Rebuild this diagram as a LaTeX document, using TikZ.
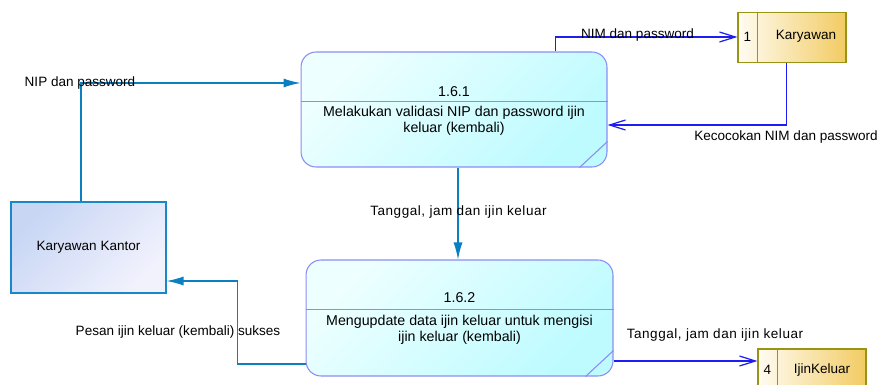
\documentclass[tikz,border=0pt]{standalone}
\usepackage{fontspec}
\setmainfont{Liberation Sans}
\usepackage{xcolor}
\usepackage{tikz}
\usetikzlibrary{arrows.meta,calc,positioning}
\definecolor{proclin}{HTML}{8C8CF5}
\definecolor{proctop}{HTML}{EEFFFF}
\definecolor{procbot}{HTML}{BDFBFF}
\definecolor{storelin}{HTML}{9A9414}
\definecolor{storeleft}{HTML}{FFFCF2}
\definecolor{storeright}{HTML}{F2CB62}
\definecolor{entlin}{HTML}{1888C8}
\definecolor{enttop}{HTML}{C8D6F4}
\definecolor{entbot}{HTML}{F2F2FD}
\definecolor{flowteal}{HTML}{0A80C0}
\definecolor{flowblue}{HTML}{1E1EF0}
\newcommand{\lblfont}{\fontsize{7.7pt}{9.1pt}\selectfont}
\newcommand{\procfont}{\fontsize{8.1pt}{9.1pt}\selectfont}
\newcommand{\widefont}{\lblfont\addfontfeatures{LetterSpace=4}}
\tikzset{
  process/.style={draw=proclin, line width=0.6pt, rounded corners=0.3cm, top color=proctop, bottom color=procbot, shading angle=45, minimum width=6.12cm, minimum height=2.3cm},
  store/.style={draw=storelin, line width=0.6pt, left color=storeleft, right color=storeright, minimum width=2.16cm, minimum height=1.0cm, inner sep=0pt},
  entity/.style={draw=entlin, line width=0.6pt, top color=enttop, bottom color=entbot, shading angle=45, minimum width=3.1cm, minimum height=1.82cm, font=\lblfont},
  ptext/.style={align=center, inner sep=0pt, font=\procfont},
  lbl/.style={inner sep=0pt, font=\lblfont},
  flowA/.style={-{Latex[length=0.34cm, width=0.18cm]}, draw=flowteal, line width=0.7pt},
  flowB/.style={-{Straight Barb[length=0.32cm, width=0.2cm]}, draw=flowblue, line width=0.7pt}
}

\begin{document}
\begin{tikzpicture}[x=0.02cm, y=-0.02cm]
  \useasboundingbox (0,0) rectangle (879,385);

  % processes
  \node[process] (p1) at (454,109.5) {};
  \node[process, minimum width=6.14cm, minimum height=2.32cm] (p2) at (459.5,318) {};
  \foreach \p in {p1,p2} {
    \draw[proclin, line width=0.6pt] ($(\p.north west)+(0,50)$) -- ($(\p.north east)+(0,50)$);
    \draw[proclin, line width=0.6pt] ($(\p.south east)+(0,-26)$) -- ($(\p.south east)+(-28,0)$);
  }
  \node[ptext] (p1t) at (454,92) {1.6.1};
  \node[ptext] (p1d) at (454,121) {Melakukan validasi NIP dan password ijin\\keluar (kembali)};
  \node[ptext] (p2t) at (459.5,298) {1.6.2};
  \node[ptext] (p2d) at (459.5,329.5) {Mengupdate data ijin keluar untuk mengisi\\ijin keluar (kembali)};

  % data stores
  \node[store] (s1) at (792,37.5) {};
  \node[store] (s2) at (812,374) {};
  \foreach \s in {s1,s2} {
    \draw[storelin, line width=0.6pt] ($(\s.north west)+(20,0)$) -- ($(\s.south west)+(20,0)$);
  }
  \node[lbl] (s1n) at ($(s1.west)+(10,-1)$) {1};
  \node[lbl] (s1l) at ($(s1.center)+(14,-1)$) {Karyawan};
  \node[lbl] (s2n) at ($(s2.west)+(10,-4)$) {4};
  \node[lbl] (s2l) at ($(s2.center)+(10,-4)$) {IjinKeluar};

  % external entity
  \node[entity] (kk) at (88.5,247.5) {Karyawan Kantor};

  % flows
  \draw[flowA] ($(kk.north)+(-7.5,0)$) |- ($(p1.west)+(0,-26.5)$);
  \draw[flowA] ($(p1.south)+(4,0)$) -- ($(p2.north)+(-1.5,0)$);
  \draw[flowA] ($(p2.west)+(0,46)$) -| ($(kk.east)+(71,33.5)$) -- ($(kk.east)+(0,33.5)$);
  \draw[flowB] ($(p1.north east)+(-52,0)$) |- ($(s1.west)+(0,-0.5)$);
  \draw[flowB] ($(s1.south west)+(49,0)$) |- ($(p1.east)+(0,15.5)$);
  \draw[flowB] ($(p2.east)+(0,43)$) -- ($(s2.west)+(0,-13)$);

  % flow labels
  \node[lbl] (l1) at (80,83) {NIP dan password};
  \node[lbl] (l2) at (637.5,35) {NIM dan password};
  \node[lbl] (l3) at (786,137) {Kecocokan NIM dan password};
  \node[lbl, font=\widefont] (l4) at (458.5,212) {Tanggal, jam dan ijin keluar};
  \node[lbl] (l5) at (178,332) {Pesan ijin keluar (kembali) sukses};
  \node[lbl, font=\widefont] (l6) at (715,335) {Tanggal, jam dan ijin keluar};
\end{tikzpicture}
\end{document}
